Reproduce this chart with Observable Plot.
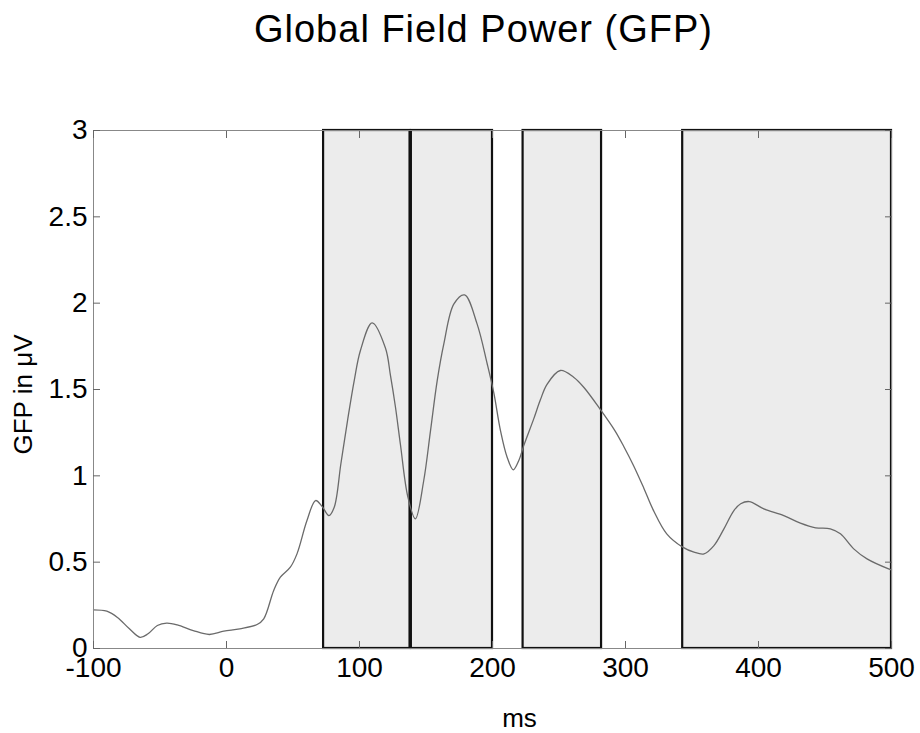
<!DOCTYPE html>
<html>
<head>
<meta charset="utf-8">
<script src="https://cdn.jsdelivr.net/npm/d3@7"></script>
<script src="https://cdn.jsdelivr.net/npm/@observablehq/plot@0.6"></script>
<style>
  html, body { margin: 0; padding: 0; background: #fff; }
  body { width: 920px; height: 733px; overflow: hidden; font-family: "Liberation Sans", Arial, sans-serif; }
  #title { height: 75px; box-sizing: border-box; padding-top: 10px; padding-left: 47px; text-align: center;
           font-size: 38px; line-height: 38px; letter-spacing: 1px; color: #000; }
</style>
</head>
<body>
<div id="title">Global Field Power (GFP)</div>
<div id="chart"></div>
<script>
// Time points (ms) and GFP values (µV)
const times = [-100, -90, -82, -73, -65, -59, -52, -45, -37, -25, -13, -2, 10, 23, 28, 35.5, 40.5, 48, 53, 60.5,
  67, 72, 77, 81, 86, 91, 96, 100.7, 109.5, 119.5, 123.3, 127, 130.8, 136.3, 142, 148.3, 153.4, 158.4, 163.4, 171,
  179, 188.4, 196, 201, 206, 211, 215.6, 219.8, 223.5, 231, 236, 241, 251, 261, 268.6, 281, 292, 298.7, 306, 313.7,
  321, 331, 343, 351.5, 359, 366.5, 374, 381.5, 386.6, 393, 404, 419, 431.5, 443, 454, 461.6, 471.6, 481.6, 497.8, 500];
const gfp = [0.224, 0.216, 0.18, 0.114, 0.065, 0.085, 0.133, 0.147, 0.137, 0.104, 0.081, 0.1, 0.114, 0.139, 0.172, 0.336, 0.413, 0.471, 0.548, 0.741,
  0.857, 0.822, 0.77, 0.818, 1.07, 1.32, 1.55, 1.726, 1.886, 1.74, 1.58, 1.40, 1.18, 0.88, 0.751, 0.973, 1.262, 1.55, 1.764, 1.996,
  2.048, 1.88, 1.649, 1.48, 1.262, 1.108, 1.035, 1.089, 1.175, 1.33, 1.44, 1.53, 1.61, 1.571, 1.513, 1.385, 1.262, 1.17, 1.06, 0.93,
  0.80, 0.664, 0.587, 0.558, 0.548, 0.596, 0.693, 0.799, 0.838, 0.851, 0.809, 0.77, 0.726, 0.699, 0.693, 0.664, 0.577, 0.519, 0.461, 0.455];

// Shaded analysis windows (ms)
const windowStart = [73, 139, 223, 343];
const windowEnd   = [138, 200, 282, 500];

// Axis ticks
const xTicks = [-100, 0, 100, 200, 300, 400, 500];
const yTicks = [0, 0.5, 1, 1.5, 2, 2.5, 3];
const xDomain = [-100, 500];
const yDomain = [0, 3];

const series = times.map((t, i) => ({t, v: gfp[i]}));
const windows = windowStart.map((s, i) => ({s, e: windowEnd[i]}));

const font = '"Liberation Sans", Arial, sans-serif';
const tickColor = "#666";
const fmt = d => String(d);

const chart = Plot.plot({
  width: 920,
  height: 658,
  marginTop: 55,
  marginBottom: 85,
  marginLeft: 93,
  marginRight: 29,
  style: {fontFamily: font, background: "#fff", color: "#000"},
  x: {domain: xDomain},
  y: {domain: yDomain},
  marks: [
    Plot.rect(windows, {x1: "s", x2: "e", y1: yDomain[0], y2: yDomain[1], fill: "#ececec", stroke: "#111", strokeWidth: 2.2}),
    Plot.line(series, {x: "t", y: "v", stroke: "#6a6a6a", strokeWidth: 1.3, curve: "catmull-rom"}),
    Plot.frame({stroke: "#888", strokeWidth: 1}),
    // inward tick marks on all four sides
    Plot.axisX(xTicks, {anchor: "bottom", tickSize: 7, dy: -7, tickFormat: () => "", label: null, stroke: tickColor}),
    Plot.axisX(xTicks, {anchor: "top", tickSize: 7, dy: 7, tickFormat: () => "", label: null, stroke: tickColor}),
    Plot.axisY(yTicks, {anchor: "left", tickSize: 7, dx: 7, tickFormat: () => "", label: null, stroke: tickColor}),
    Plot.axisY(yTicks, {anchor: "right", tickSize: 7, dx: -7, tickFormat: () => "", label: null, stroke: tickColor}),
    // tick labels
    Plot.axisX(xTicks, {anchor: "bottom", tickSize: 0, tickPadding: 9, tickFormat: fmt, fontSize: 28, fill: "#000", label: null}),
    Plot.axisY(yTicks, {anchor: "left", tickSize: 0, tickPadding: 6, tickFormat: fmt, fontSize: 28, fill: "#000", label: null}),
    // axis titles
    Plot.text(["GFP in μV"], {frameAnchor: "left", rotate: -90, dx: -70, dy: 5, fontSize: 26, fill: "#000", lineAnchor: "middle", textAnchor: "middle"}),
    Plot.text(["ms"], {frameAnchor: "bottom", dx: 27, dy: 70, fontSize: 26, fill: "#000", lineAnchor: "middle"})
  ]
});
document.getElementById("chart").appendChild(chart);
</script>
</body>
</html>
